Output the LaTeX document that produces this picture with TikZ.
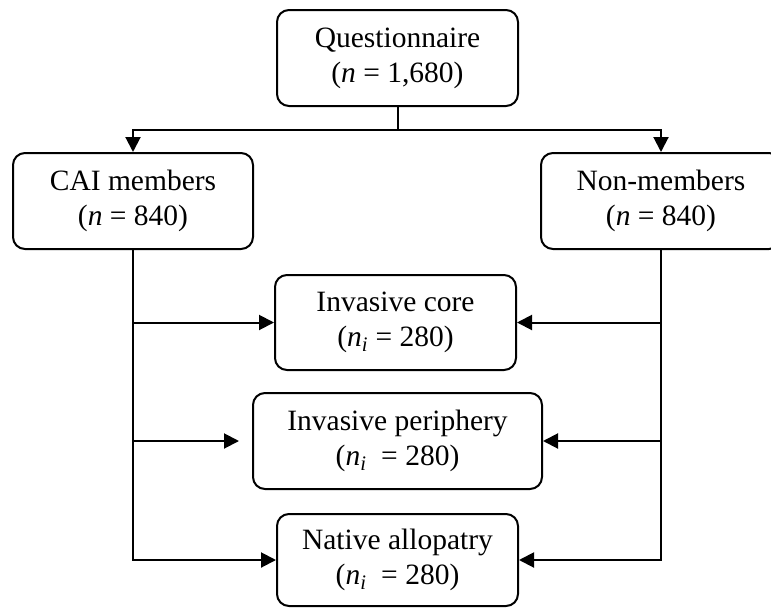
\documentclass[tikz,border=0pt]{standalone}
\usepackage{fontspec}
\setmainfont{Liberation Serif}
\usetikzlibrary{arrows.meta}

\begin{document}
\begin{tikzpicture}[x=1pt,y=-1pt,line width=2pt,
            >={Triangle[length=15pt,width=15pt]},
            every node/.style={inner sep=0pt,font=\fontsize{29.5}{35}\selectfont},
            groupbox/.style={draw,rounded corners=12pt,align=center,
              minimum width=241pt,minimum height=96pt}]
            \clip(0,0)rectangle(771,608);
            \node[groupbox](quest)at(397.5,58){Questionnaire\\(\textit{n} = 1,680)};
            \node[groupbox,minimum width=240pt](cai)at(133,201){CAI members\\(\textit{n} = 840)};
            \node[groupbox,minimum width=240pt](non)at(661,201){Non-members\\(\textit{n} = 840)};
            \node[groupbox,minimum height=95pt](core)at(395.5,322.5)
              {Invasive core\\(\textit{n}\textsubscript{\textit{i}} = 280)};
            \node[groupbox,minimum width=289pt](peri)at(397.5,441)
              {Invasive periphery\\(\textit{n}\textsubscript{\textit{i}}\ \ = 280)};
            \node[groupbox,minimum height=92pt](nat)at(397.5,560)
              {Native allopatry\\(\textit{n}\textsubscript{\textit{i}}\ \ = 280)};
            % split from the questionnaire
            \coordinate(split)at(quest.south|-0,130);
            \draw(quest.south)--(split);
            \draw[->](split)-|(cai.north);
            \draw[->](split)-|(non.north);
            % trunks on both sides
            \coordinate(lefttrunk)at(cai.south|-nat.west);
            \coordinate(righttrunk)at(non.south|-nat.east);
            \draw[->](cai.south)--(lefttrunk)--(nat.west);
            \draw[->](non.south)--(righttrunk)--(nat.east);
            \draw[->](cai.south|-core.west)--(core.west);
            \draw[->](non.south|-core.east)--(core.east);
            \draw[->,shorten >=13pt](cai.south|-peri.west)--(peri.west);
            \draw[->](non.south|-peri.east)--(peri.east);
          \end{tikzpicture}
\end{document}
